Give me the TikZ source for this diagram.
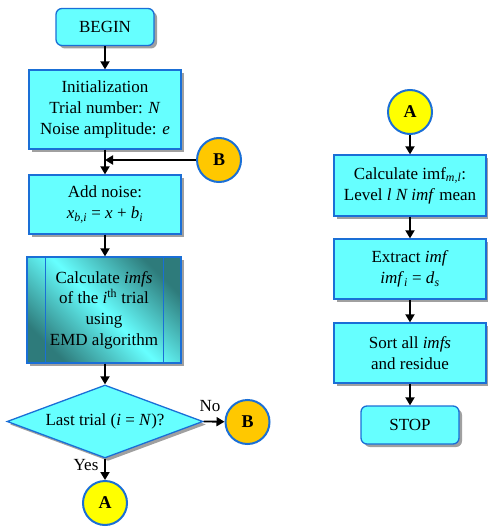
\documentclass[tikz,border=0pt]{standalone}
\usepackage{fontspec}
\setmainfont{Liberation Serif}
\usetikzlibrary{shapes.geometric,shadows,arrows.meta}
\definecolor{boxfill}{HTML}{66FFFF}
\definecolor{boxline}{HTML}{1A6FD6}
\definecolor{darkteal}{HTML}{2E7B7B}
\definecolor{gold}{HTML}{FFC800}
\definecolor{yel}{HTML}{FFFF00}
\definecolor{shadowgray}{HTML}{A0A0A0}
\begin{document}
\begin{tikzpicture}[x=1pt,y=-1pt,
 font=\fontsize{17}{20.7}\selectfont,
 shad/.style={drop shadow={shadow xshift=3pt, shadow yshift=-3pt, fill=shadowgray, opacity=1}},
 proc/.style={draw=boxline, line width=1.3pt, fill=boxfill, shad, align=center, inner sep=0pt},
 term/.style={proc, rounded corners=6pt},
 conn/.style={circle, draw=boxline, line width=2pt, minimum size=44pt, inner sep=0pt, font=\fontsize{18}{20}\selectfont\bfseries},
 arr/.style={line width=1.8pt, -{Triangle[width=9pt,length=8pt]}},
 lbl/.style={inner sep=0pt}
]
\useasboundingbox (0,0) rectangle (487,529);

% left column
\node[term, minimum width=98pt, minimum height=37pt] (begin) at (105,27) {BEGIN};
\node[proc, minimum width=152pt, minimum height=79pt] (init) at (105,109.5)
  {Initialization\\Trial number: \textit{N}\\Noise amplitude: \textit{e}};
\node[conn, fill=gold] (B1) at (219,160) {B};
\node[proc, minimum width=152pt, minimum height=59pt] (noise) at (105,204.5)
  {Add noise:\\\textit{x}\textsubscript{\textit{b,i}} = \textit{x} + \textit{b}\textsubscript{\textit{i}}};
\node[proc, minimum width=154pt, minimum height=106pt, shading=axis,
  top color=darkteal, bottom color=darkteal, middle color=boxfill, shading angle=-45] (calc) at (104,310)
  {Calculate \textit{imfs}\\of the \textit{i}\textsuperscript{th} trial\\using\\EMD algorithm};
\draw[boxline, line width=1.3pt] ([xshift=19pt]calc.north west) -- ([xshift=19pt]calc.south west);
\draw[boxline, line width=1.3pt] ([xshift=-18pt]calc.north east) -- ([xshift=-18pt]calc.south east);
\node[diamond, draw=boxline, line width=1.3pt, fill=boxfill, shad, inner sep=0pt, aspect=2.68,
  minimum width=196pt, minimum height=73pt] (dec) at (105,421.5) {Last trial (\textit{i} = \textit{N})?};
\node[conn, fill=gold] (B2) at (247.5,422) {B};
\node[conn, fill=yel] (A1) at (105,503) {A};
\node[lbl] (no) at (210,406) {No};
\node[lbl] (yes) at (86,465) {Yes};

% right column
\node[conn, fill=yel] (A2) at (410,112) {A};
\node[proc, minimum width=152pt, minimum height=61pt] (calcimf) at (410,185.5)
  {Calculate imf\textsubscript{\textit{m,l}}:\\Level \textit{l N imf} mean};
\node[proc, minimum width=152pt, minimum height=60pt] (extract) at (410,269)
  {Extract \textit{imf}\\\textit{imf}\textsubscript{\textit{i}} = \textit{d}\textsubscript{\textit{s}}};
\node[proc, minimum width=152pt, minimum height=60pt] (sort) at (410,353)
  {Sort all \textit{imfs}\\and residue};
\node[term, minimum width=98pt, minimum height=38pt] (stop) at (410,425) {STOP};

% connectors
\draw[arr] (begin) -- (init);
\draw[arr] (init) -- (noise);
\draw[arr] (B1.west) -- (B1.west -| init.south);
\draw[arr] (noise.south) -- (noise.south |- calc.north);
\draw[arr] (calc.south -| dec.north) -- (dec.north);
\draw[arr] (dec.east) -- (B2);
\draw[arr] (dec.south) -- (A1);
\draw[arr] (A2) -- (calcimf);
\draw[arr] (calcimf) -- (extract);
\draw[arr] (extract) -- (sort);
\draw[arr] (sort) -- (stop);
\end{tikzpicture}
\end{document}
